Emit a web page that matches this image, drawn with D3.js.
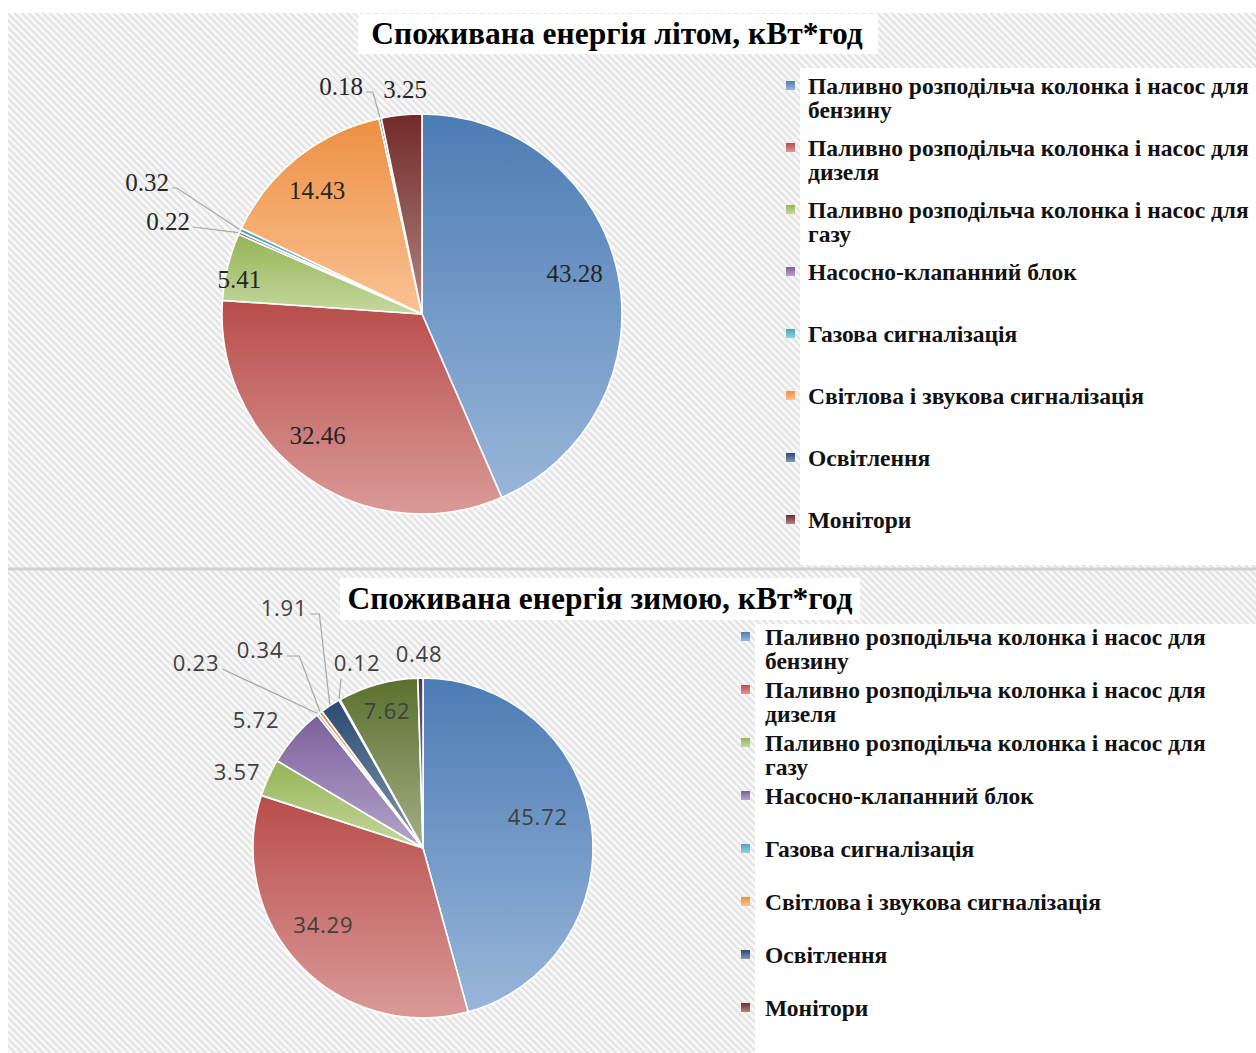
<!DOCTYPE html>
<html><head><meta charset="utf-8">
<script src="https://cdn.jsdelivr.net/npm/d3@7"></script>
<style>body{margin:0;background:#fff} svg{display:block}</style>
</head><body>
<svg id="chart" width="1256" height="1053"></svg>
<script>
// ---------- data ----------
const categories = [
  "Паливно розподільча колонка і насос для бензину",
  "Паливно розподільча колонка і насос для дизеля",
  "Паливно розподільча колонка і насос для газу",
  "Насосно-клапанний блок",
  "Газова сигналізація",
  "Світлова і звукова сигналізація",
  "Освітлення",
  "Монітори"
];
const summerTitle = "Споживана енергія літом, кВт*год";
const winterTitle = "Споживана енергія зимою, кВт*год";
const summerValues = [43.28, 32.46, 5.41, 0.22, 0.32, 14.43, 0.18, 3.25];
const winterValues = [45.72, 34.29, 3.57, 5.72, 0.23, 0.34, 1.91, 0.12, 7.62, 0.48];
const summerLabels = ["43.28", "32.46", "5.41", "0.22", "0.32", "14.43", "0.18", "3.25"];
const winterLabels = ["45.72", "34.29", "3.57", "5.72", "0.23", "0.34", "1.91", "0.12", "7.62", "0.48"];

// ---------- styles / layout ----------
const palette = ["#4F81BD","#C0504D","#9BBB59","#8064A2","#4BACC6","#F79646","#2C4D75","#772C2A","#5F7530","#4D3B62"];

// label placement: in = inside at radius fraction f with angle tweak da (deg);
// out = offset from pie centre, optional leader line
const summerPlace = [
  {k:"in", f:0.79, da:-3.3},
  {k:"in", f:0.80, da:5.5},
  {k:"in", f:0.93, da:-2.7},
  {k:"out", dx:-254, dy:-93, leader:"right", elbow:0},
  {k:"out", dx:-275, dy:-132, leader:"right", elbow:5},
  {k:"in", f:0.81, da:-1.8},
  {k:"out", dx:-81, dy:-228, leader:"right", elbow:7},
  {k:"out", dx:-17, dy:-225}
];
const winterPlace = [
  {k:"in", f:0.70, da:-7.4},
  {k:"in", f:0.74, da:6.1},
  {k:"out", dx:-186, dy:-76},
  {k:"out", dx:-167, dy:-128},
  {k:"out", dx:-227, dy:-185, leader:"right", elbow:0},
  {k:"out", dx:-163, dy:-198, leader:"right", elbow:13},
  {k:"out", dx:-139, dy:-240, leader:"right", elbow:9},
  {k:"out", dx:-66, dy:-185, leader:"below"},
  {k:"in", f:0.83, da:0.7},
  {k:"out", dx:-4, dy:-194}
];

const panels = [
  {id:"s", title:summerTitle, values:summerValues, labels:summerLabels, place:summerPlace,
   cx:422, cy:314, r:200, titleX:617, titleY:44, titleBox:[358,14,520,40],
   legBox:[800,68,456,497], legSqX:786, legTextX:808, legY0:86, legStep:62, legMax:452,
   labelFont:"'Liberation Serif', 'Times New Roman', serif", labelSize:25, labelFill:"#262626", labelLS:0},
  {id:"w", title:winterTitle, values:winterValues, labels:winterLabels, place:winterPlace,
   cx:423, cy:848, r:170, titleX:600, titleY:609, titleBox:[340,578,520,42],
   legBox:[755,624,501,429], legSqX:741, legTextX:765, legY0:637, legStep:53, legMax:452,
   labelFont:"'Open Sans', 'Noto Sans', sans-serif", labelSize:22, labelFill:"#404040", labelLS:0.8}
];

const svg = d3.select("#chart");
const defs = svg.append("defs");

// hatched background
const pat = defs.append("pattern").attr("id","hatch").attr("patternUnits","userSpaceOnUse")
  .attr("width",5).attr("height",5).attr("patternTransform","rotate(-45)");
pat.append("rect").attr("width",5).attr("height",5).attr("fill","#f9f9f9");
pat.append("rect").attr("width",2.2).attr("height",5).attr("fill","#e3e3e3");

svg.append("rect").attr("x",8).attr("y",13).attr("width",1248).attr("height",1040).attr("fill","url(#hatch)");
svg.append("line").attr("x1",8).attr("x2",1256).attr("y1",569).attr("y2",569)
  .attr("stroke","#d2d2d2").attr("stroke-width",3);

const pie = d3.pie().sort(null).value(d => d);

panels.forEach(p => {
  // white boxes
  svg.append("rect").attr("x",p.legBox[0]).attr("y",p.legBox[1]).attr("width",p.legBox[2]).attr("height",p.legBox[3]).attr("fill","#fff");
  svg.append("rect").attr("x",p.titleBox[0]).attr("y",p.titleBox[1]).attr("width",p.titleBox[2]).attr("height",p.titleBox[3]).attr("fill","#fff");

  // gradients
  p.values.forEach((v,i) => {
    const base = palette[i];
    const g = defs.append("linearGradient").attr("id",`g-${p.id}-${i}`)
      .attr("x1",0).attr("y1",0).attr("x2",0).attr("y2",1);
    g.append("stop").attr("offset","0%").attr("stop-color", d3.interpolateRgb(base,"#000")(0.04));
    g.append("stop").attr("offset","100%").attr("stop-color", d3.interpolateRgb(base,"#fff")(0.42));
  });

  const g = svg.append("g").attr("transform",`translate(${p.cx},${p.cy})`);
  const arcs = pie(p.values);
  const arc = d3.arc().innerRadius(0).outerRadius(p.r);
  g.selectAll("path.slice").data(arcs).enter().append("path").attr("class","slice")
    .attr("d", arc)
    .attr("fill", (d,i) => `url(#g-${p.id}-${i})`)
    .attr("stroke","#fff").attr("stroke-width",1.6).attr("stroke-linejoin","round");

  // labels
  arcs.forEach((d,i) => {
    const pl = p.place[i];
    const mid = (d.startAngle + d.endAngle)/2;
    let lx, ly;
    if (pl.k === "in") {
      const a = mid + pl.da*Math.PI/180;
      lx = Math.sin(a)*p.r*pl.f; ly = -Math.cos(a)*p.r*pl.f;
    } else { lx = pl.dx; ly = pl.dy; }
    const t = g.append("text").attr("x",lx).attr("y",ly).attr("dy","0.36em")
      .attr("text-anchor","middle").attr("font-family",p.labelFont)
      .attr("letter-spacing",p.labelLS)
      .attr("font-size",p.labelSize).attr("fill",p.labelFill).text(p.labels[i]);
    if (pl.leader) {
      const bb = t.node().getBBox();
      const edge = d3.arc().innerRadius(p.r+1).outerRadius(p.r+1).centroid(d);
      let pts;
      if (pl.leader === "right") {
        const sx = bb.x + bb.width + 3, sy = ly + 6;
        pts = [[sx,sy],[sx+pl.elbow,sy],edge];
      } else {
        pts = [[lx - 16, bb.y + bb.height + 2], edge];
      }
      g.append("path").attr("d", d3.line()(pts)).attr("fill","none")
        .attr("stroke","#a6a6a6").attr("stroke-width",1.2);
    }
  });

  // title
  svg.append("text").attr("x",p.titleX).attr("y",p.titleY).attr("text-anchor","middle")
    .attr("font-family","'Liberation Serif', 'Times New Roman', serif").attr("font-weight","bold")
    .attr("font-size",31.5).attr("fill","#000").text(p.title);

  // legend
  const leg = svg.append("g");
  categories.forEach((c,i) => {
    const y = p.legY0 + i*p.legStep;
    leg.append("rect").attr("x",p.legSqX).attr("y",y-5).attr("width",9).attr("height",9)
      .attr("fill", `url(#g-${p.id}-${i})`);
    const t = leg.append("text").attr("x",p.legTextX).attr("y",y).attr("dy","0.35em")
      .attr("font-family","'Liberation Serif', 'Times New Roman', serif").attr("font-weight","bold")
      .attr("font-size",23.5).attr("fill","#111");
    // word wrap
    const words = c.split(" ");
    let line = [];
    let tspan = t.append("tspan").attr("x",p.legTextX);
    words.forEach(w => {
      line.push(w);
      tspan.text(line.join(" "));
      if (tspan.node().getComputedTextLength() > p.legMax && line.length > 1) {
        line.pop(); tspan.text(line.join(" "));
        line = [w];
        tspan = t.append("tspan").attr("x",p.legTextX).attr("dy","1.03em").text(w);
      }
    });
  });
});
</script>
</body></html>
